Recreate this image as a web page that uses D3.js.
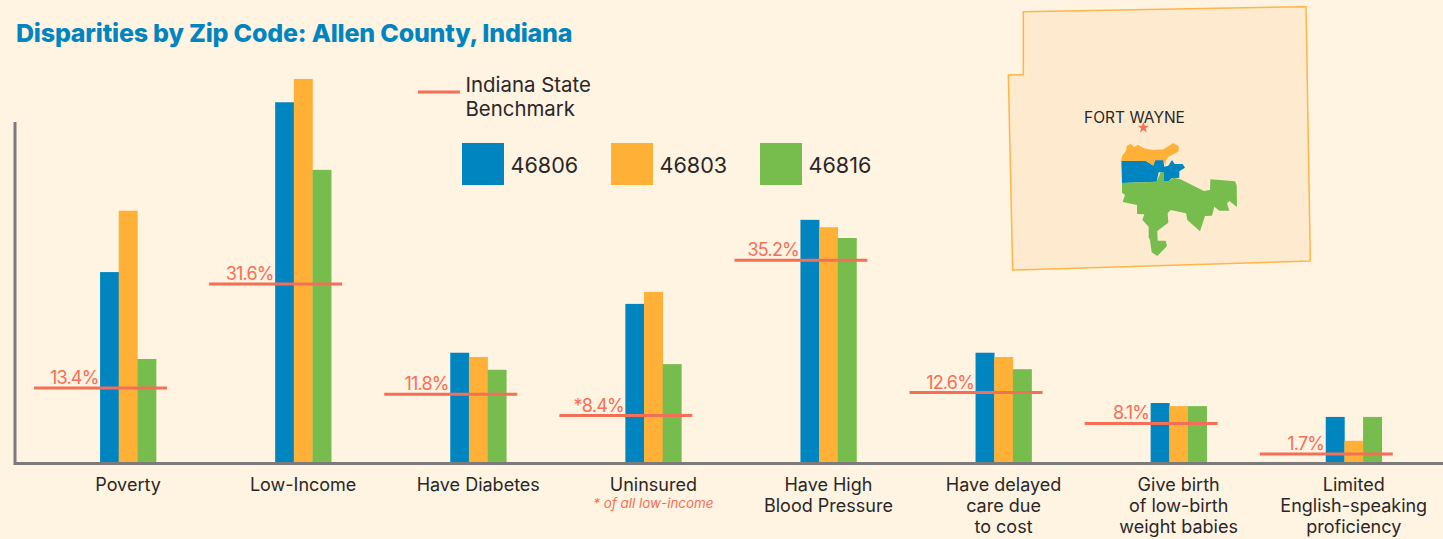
<!DOCTYPE html>
<html><head><meta charset="utf-8">
<script src="https://cdnjs.cloudflare.com/ajax/libs/d3/7.8.5/d3.min.js"></script>
<style>html,body{margin:0;padding:0;background:#fff3e2}svg{display:block}text{font-family:Inter,"Open Sans",sans-serif}</style>
</head><body><svg id="c" width="1443" height="539"></svg>
<script>
const categories=["Poverty","Low-Income","Have Diabetes","Uninsured","Have High Blood Pressure","Have delayed care due to cost","Give birth of low-birth weight babies","Limited English-speaking proficiency"];
const categoryLines=[["Poverty"],["Low-Income"],["Have Diabetes"],["Uninsured"],["Have High","Blood Pressure"],["Have delayed","care due","to cost"],["Give birth","of low-birth","weight babies"],["Limited","English-speaking","proficiency"]];
const zipCodes=["46806","46803","46816"];
const zip46806=[33.7,63.6,19.5,28.1,42.9,19.5,10.65,8.2];
const zip46803=[44.5,67.7,18.75,30.2,41.6,18.75,10.1,4.0];
const zip46816=[18.4,51.7,16.5,17.5,39.7,16.6,10.1,8.2];
const benchmarkDrawn=[13.3,31.6,12.2,8.45,35.8,12.5,7.05,1.67];
const benchmarkLabels=["13.4%","31.6%","11.8%","*8.4%","35.2%","12.6%","8.1%","1.7%"];
const colors=["#0085c1","#ffb137","#77bd4e"];
const benchColor="#f56f56", ink="#2b2727", axisColor="#7b7b7b";
// Map outlines, in units of a 3x enlargement of the map region
const countyRing=[[70,35],[918,20],[931,783],[38,810],[25,225],[70,224]];
const orangeRing=[[364,483],[366,468],[378,452],[380,437],[392,432],[403,441],[413,434],[432,445],[460,450],[490,448],[520,429],[537,440],[535,455],[505,470],[497,482],[497,497],[491,482],[466,482],[460,497],[437,483]];
const blueRing=[[364,483],[437,483],[460,497],[466,481],[490,481],[493,500],[505,497],[516,480],[524,492],[548,492],[555,503],[538,514],[538,533],[515,535],[507,543],[491,543],[490,517],[476,517],[470,545],[366,549]];
const greenRing=[[366,549],[470,545],[482,516],[491,516],[492,543],[507,543],[520,533],[540,537],[612,573],[630,570],[631,538],[705,544],[710,556],[711,621],[688,603],[681,610],[688,632],[658,632],[643,620],[636,647],[615,648],[600,694],[562,660],[558,640],[512,630],[503,640],[505,668],[472,693],[473,722],[497,722],[501,738],[472,768],[455,757],[450,720],[446,712],[446,680],[427,660],[433,643],[411,642],[411,615],[368,606],[375,585],[366,578]];
const cityPoint=[430,383];

const svg=d3.select("#c");
const baseY=463.5;
const x=d3.scaleBand().domain(categories).range([40.5,1441.3]);
const x1=d3.scaleBand().domain(zipCodes).range([-28,28]);
const y=d3.scaleLinear().domain([0,70]).range([baseY,baseY-397.6]);
const series=[zip46806,zip46803,zip46816];
const cx=c=>x(c)+x.bandwidth()/2;

// Map
const proj=d3.geoIdentity().scale(1/3).translate([1000,0]);
const geo=d3.geoPath(proj);
const poly=r=>({type:"Polygon",coordinates:[[...r,r[0]]]});
svg.append("path").attr("d",geo(poly(countyRing))).attr("fill","#feebcf").attr("stroke","#ffb547").attr("stroke-width",1.5);
[[orangeRing,colors[1]],[blueRing,colors[0]],[greenRing,colors[2]]].forEach(([r,c])=>svg.append("path").attr("d",geo(poly(r))).attr("fill",c));
const cp=proj(cityPoint);
svg.append("path").attr("d",d3.symbol(d3.symbolStar,40)()).attr("transform",`translate(${cp[0]},${cp[1]})`).attr("fill",benchColor);
svg.append("text").attr("x",1134.5).attr("y",123).attr("text-anchor","middle").attr("font-size",15.5).attr("fill",ink).text("FORT WAYNE");

// Title
svg.append("text").attr("x",16).attr("y",42).attr("font-size",25).attr("font-weight",800).attr("letter-spacing",-0.2).attr("fill","#0085c1").text("Disparities by Zip Code: Allen County, Indiana");

// Bars
zipCodes.forEach((z,i)=>{
  svg.append("g").selectAll("rect").data(categories).join("rect")
    .attr("x",c=>cx(c)+x1(z)).attr("width",x1.bandwidth()+0.3)
    .attr("y",(c,k)=>y(series[i][k])).attr("height",(c,k)=>baseY-y(series[i][k]))
    .attr("fill",colors[i]);
});

// Axes
svg.append("path").attr("d",d3.line()([[15,122],[15,463.5],[1443,463.5]])).attr("fill","none").attr("stroke",axisColor).attr("stroke-width",3);

// Benchmarks
svg.append("g").selectAll("line").data(categories).join("line")
  .attr("x1",c=>cx(c)-94).attr("x2",c=>cx(c)+39)
  .attr("y1",(c,k)=>y(benchmarkDrawn[k])).attr("y2",(c,k)=>y(benchmarkDrawn[k]))
  .attr("stroke",benchColor).attr("stroke-width",3);
svg.append("g").selectAll("text").data(categories).join("text")
  .attr("x",c=>cx(c)-29.5).attr("y",(c,k)=>y(benchmarkDrawn[k])-4)
  .attr("text-anchor","end").attr("font-size",18).attr("letter-spacing",-0.8).attr("fill",benchColor)
  .text((c,k)=>benchmarkLabels[k]);

// Category labels
const lab=svg.append("g").selectAll("text").data(categories).join("text")
  .attr("text-anchor","middle").attr("font-size",18).attr("fill",ink);
lab.each(function(c,k){
  d3.select(this).selectAll("tspan").data(categoryLines[k]).join("tspan")
    .attr("x",cx(c)).attr("y",(l,j)=>490.5+j*21).text(l=>l);
});
svg.append("text").attr("x",cx("Uninsured")).attr("y",508).attr("text-anchor","middle").attr("font-size",13.4).attr("font-style","italic").attr("fill",benchColor).text("* of all low-income");

// Legend
svg.append("line").attr("x1",418).attr("x2",460).attr("y1",92).attr("y2",92).attr("stroke",benchColor).attr("stroke-width",3);
svg.append("text").attr("x",465.5).attr("y",92).attr("font-size",20.4).attr("fill",ink).text("Indiana State");
svg.append("text").attr("x",465.5).attr("y",116).attr("font-size",20.4).attr("fill",ink).text("Benchmark");
const legX=d3.scalePoint().domain(zipCodes).range([462,760]);
zipCodes.forEach((z,i)=>{
  svg.append("rect").attr("x",legX(z)).attr("y",143).attr("width",42).attr("height",42).attr("fill",colors[i]);
  svg.append("text").attr("x",legX(z)+48.5).attr("y",172.5).attr("font-size",21.6).attr("fill",ink).text(z);
});
</script></body></html>
